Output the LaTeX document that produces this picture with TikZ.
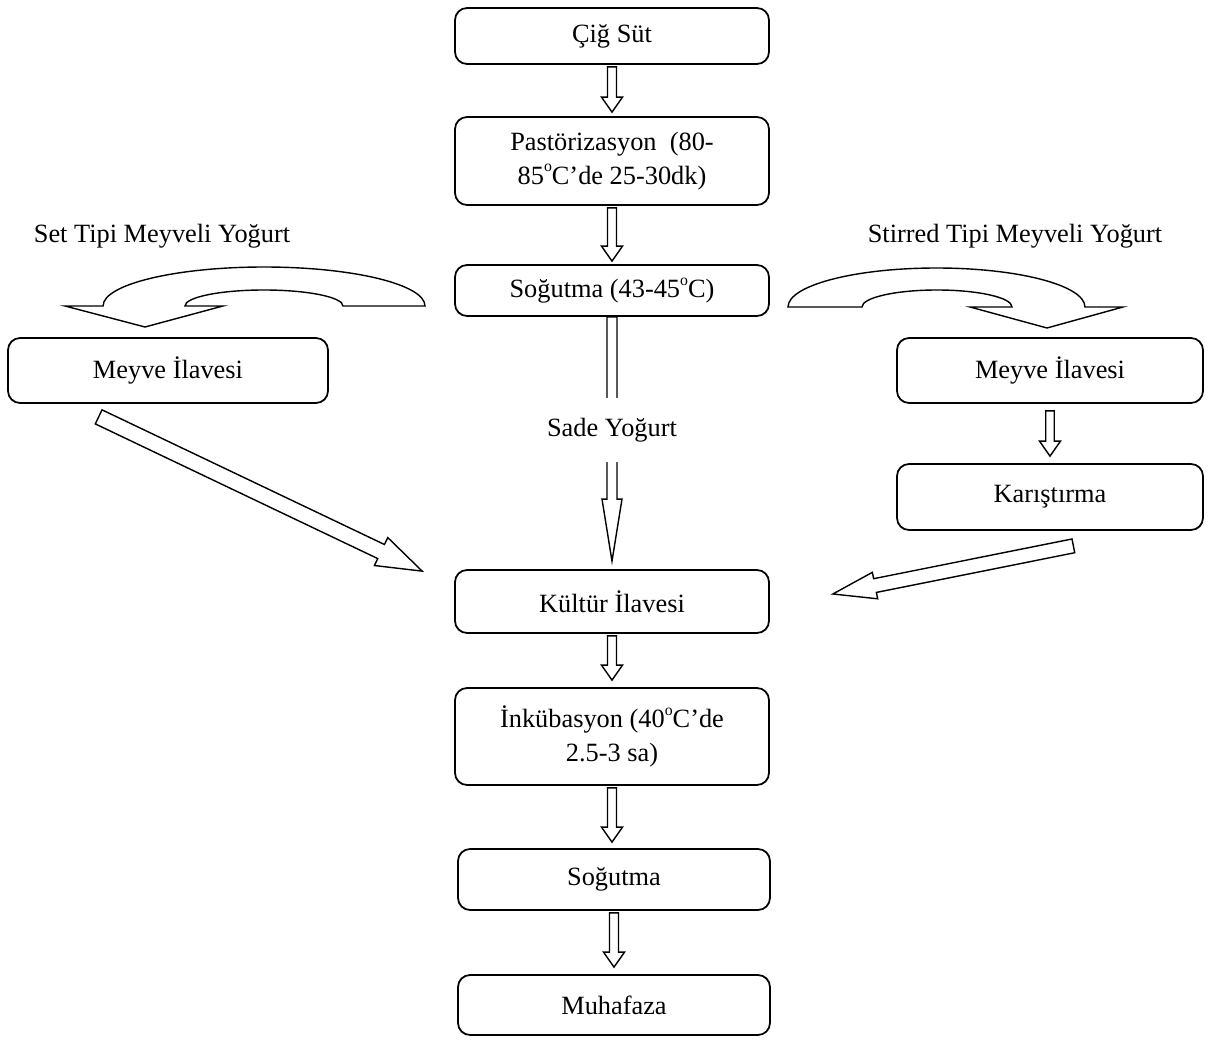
\documentclass[tikz,border=0pt]{standalone}
\usepackage{fontspec}
\setmainfont{Liberation Serif}
\usetikzlibrary{calc}

\newcommand{\degsup}{\raisebox{1.05ex}{\fontsize{9}{9}\selectfont o}}

% hollow block arrow: tail, tip, shaft half width, head half width, head length
\newcommand{\hollowarrow}[5]{%
  \coordinate (ha-a) at (#1);
  \coordinate (ha-b) at (#2);
  \coordinate (ha-n) at ($(ha-b)!#5!(ha-a)$);
  \draw[blockarrow] ($(ha-a)!#3!90:(ha-b)$) -- ($(ha-n)!#3!90:(ha-b)$)
    -- ($(ha-n)!#4!90:(ha-b)$) -- (ha-b) -- ($(ha-n)!#4!270:(ha-b)$)
    -- ($(ha-n)!#3!270:(ha-b)$) -- ($(ha-a)!#3!270:(ha-b)$) -- cycle;}

\begin{document}
\begin{tikzpicture}[x=0.02cm,y=0.02cm,
    every node/.style={font=\fontsize{15}{19}\selectfont},
    box/.style={draw,line width=1pt,rounded corners=0.24cm,align=center,
      minimum width=6.28cm,inner sep=2pt},
    blockarrow/.style={draw,line width=0.8pt,fill=white}]
\useasboundingbox (0,0) rectangle (1211,-1043);

\node[box,minimum height=1.12cm] (cig) at (612,-36) {Çiğ Süt};
\node[box,minimum height=1.76cm] (past) at (612,-161) {Pastörizasyon~ (80-\\85\degsup C’de 25-30dk)};
\node[box,minimum height=1.02cm] (sog1) at (612,-290.5) {Soğutma (43-45\degsup C)};
\node[box,minimum width=6.4cm,minimum height=1.3cm] (meyL) at (168,-370.5) {Meyve İlavesi};
\node[box,minimum width=6.12cm,minimum height=1.3cm] (meyR) at (1050,-370.5) {Meyve İlavesi};
\node[box,minimum width=6.12cm,minimum height=1.32cm] (kar) at (1050,-497) {Karıştırma};
\node[box,minimum height=1.26cm] (kul) at (612,-601.5) {Kültür İlavesi};
\node[box,minimum height=1.94cm] (ink) at (612,-736.5) {İnkübasyon (40\degsup C’de\\2.5-3 sa)};
\node[box,minimum width=6.24cm,minimum height=1.22cm] (sog2) at (614,-879.5) {Soğutma};
\node[box,minimum width=6.24cm,minimum height=1.2cm] (muh) at (614,-1005) {Muhafaza};

\node (setlbl) at (162,-236) {Set Tipi Meyveli Yoğurt};
\node (stlbl) at (1015,-236) {Stirred Tipi Meyveli Yoğurt};

% curved arrows
\draw[blockarrow] (145,-327) -- (223,-306) -- (185,-306)
  arc[start angle=180,end angle=0,x radius=1.58cm,y radius=0.32cm] -- (425,-306)
  arc[start angle=0,end angle=180,x radius=3.22cm,y radius=0.78cm] -- (65,-306) -- cycle;
\draw[blockarrow] (1047,-328) -- (970,-307) -- (1012,-307)
  arc[start angle=0,end angle=180,x radius=1.5cm,y radius=0.34cm] -- (788,-307)
  arc[start angle=180,end angle=0,x radius=2.97cm,y radius=0.78cm] -- (1123,-307) -- cycle;

\hollowarrow{$(cig.south)+(0,-2)$}{$(past.north)+(0,4)$}{0.09cm}{0.21cm}{0.3cm}
\hollowarrow{$(past.south)+(0,-2)$}{$(sog1.north)+(0,3)$}{0.09cm}{0.21cm}{0.3cm}
\hollowarrow{sog1.south}{$(kul.north)+(0,8)$}{0.1cm}{0.2cm}{1.24cm}
\node[fill=white,inner xsep=2pt,inner ysep=0.4cm] (sade) at (612,-430) {Sade Yoğurt};
\hollowarrow{$(meyR.south)+(0,-7)$}{$(kar.north)+(0,7)$}{0.085cm}{0.21cm}{0.3cm}
\hollowarrow{$(meyL.south west)+(91.5,-13)$}{$(kul.north west)+(-32,-2)$}{0.156cm}{0.31cm}{0.91cm}
\hollowarrow{$(kar.south east)+(-130.5,-15)$}{$(kul.east)+(63,7.5)$}{0.14cm}{0.27cm}{0.86cm}
\hollowarrow{$(kul.south)+(0,-2)$}{$(ink.north)+(0,7)$}{0.09cm}{0.21cm}{0.3cm}
\hollowarrow{$(ink.south)+(0,-2)$}{$(ink.south |- sog2.north)+(0,6)$}{0.09cm}{0.21cm}{0.3cm}
\hollowarrow{$(sog2.south)+(0,-2)$}{$(muh.north)+(0,7)$}{0.09cm}{0.21cm}{0.3cm}
\end{tikzpicture}
\end{document}
